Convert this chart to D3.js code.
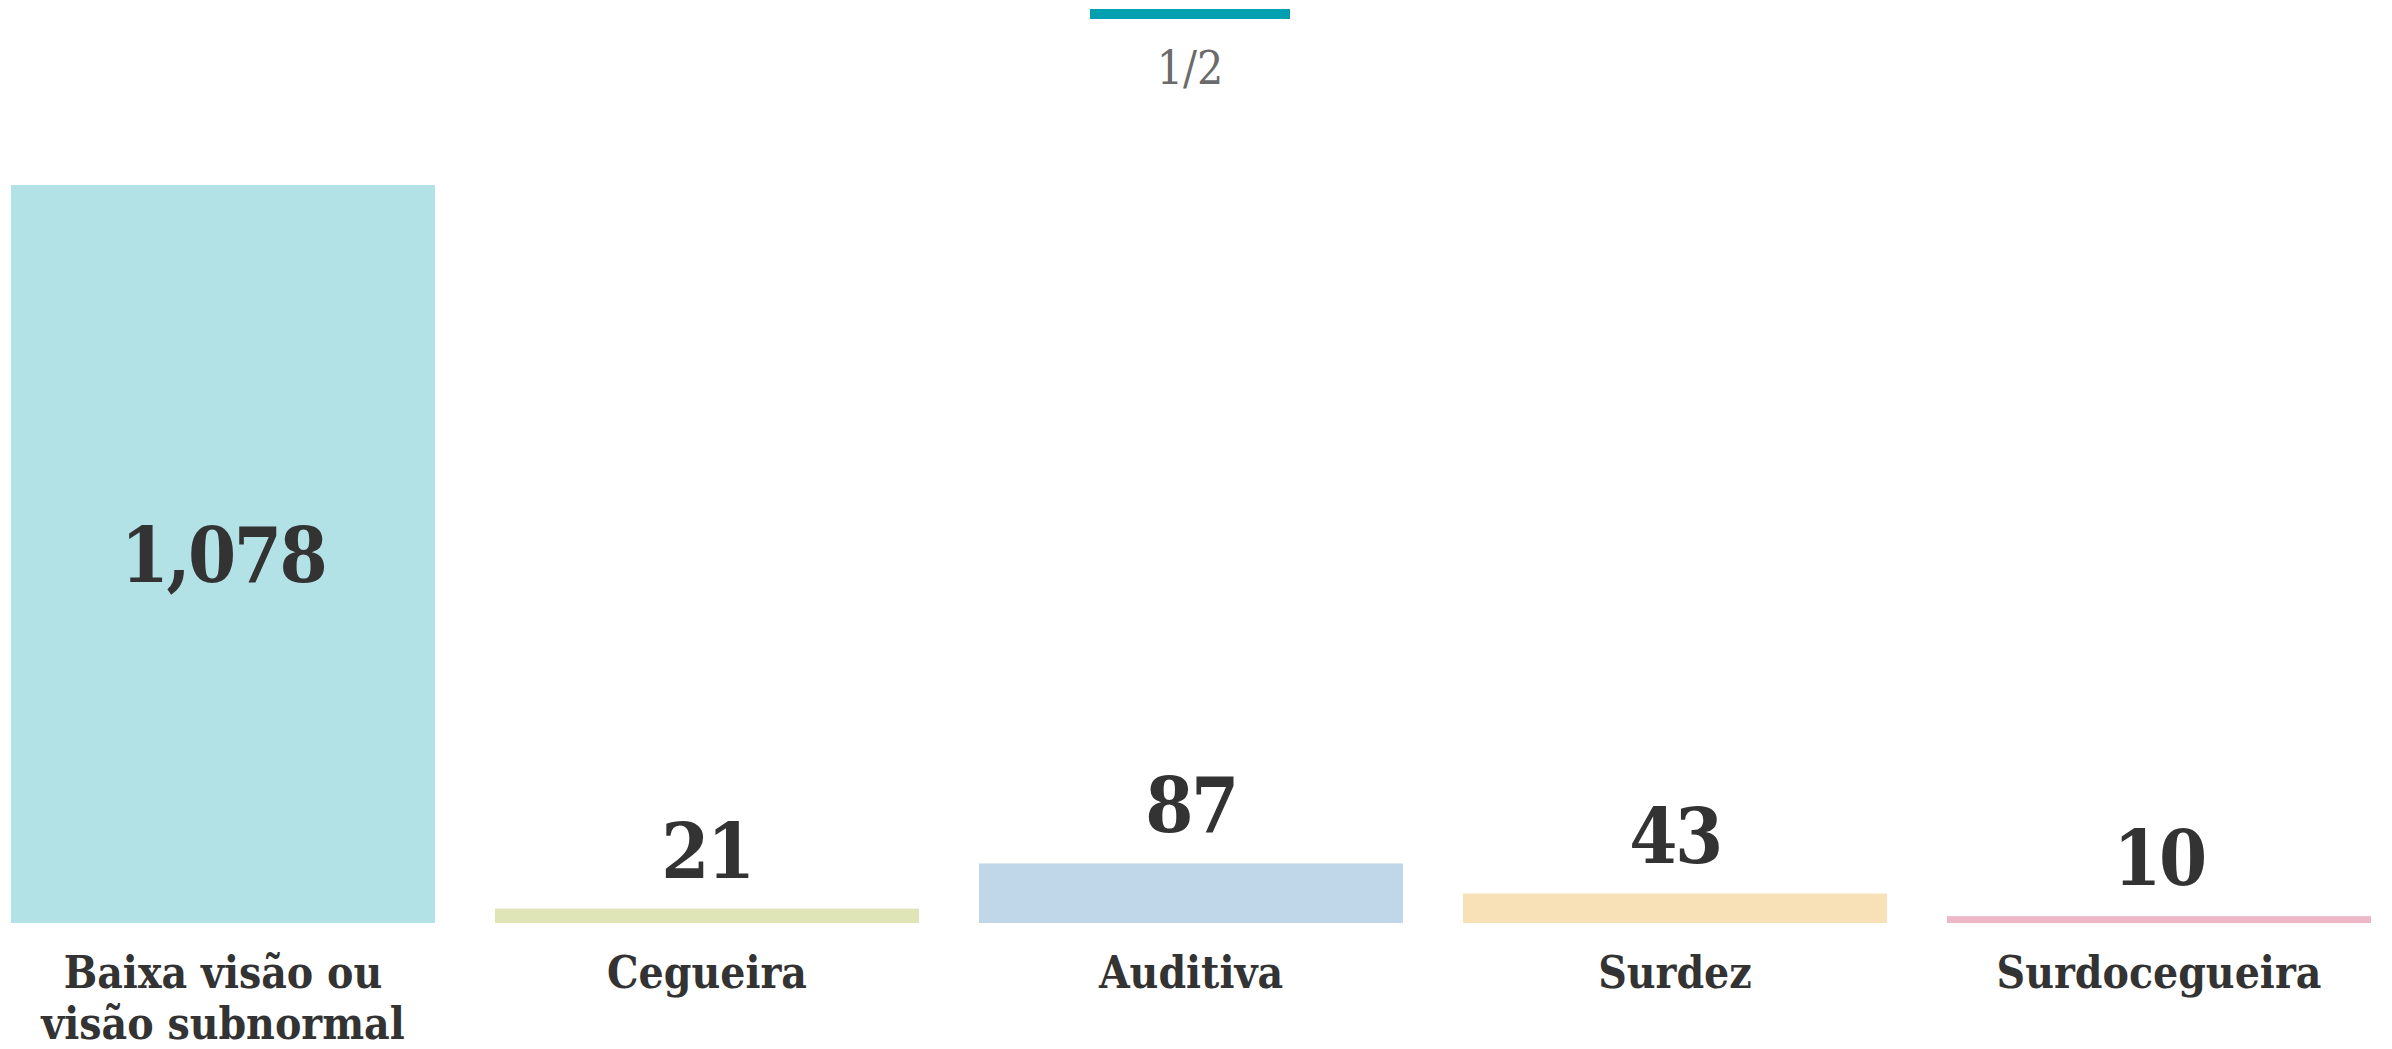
<!DOCTYPE html>
<html>
<head>
<meta charset="utf-8">
<script src="https://cdn.jsdelivr.net/npm/d3@7"></script>
<style>
  html, body { margin: 0; padding: 0; background: #fff; }
  svg { display: block; }
</style>
</head>
<body>
<svg id="chart" width="2392" height="1049"></svg>
<script>
const categories = ["Baixa visão ou visão subnormal", "Cegueira", "Auditiva", "Surdez", "Surdocegueira"];
const values = [1078, 21, 87, 43, 10];
const pageLabel = "1/2";

const W = 2392, H = 1049;
const FONT = "'DejaVu Serif Condensed', 'DejaVu Serif', serif";
const palette = ["#b2e1e6", "#dfe5b7", "#bfd7e8", "#f8e0b7", "#ecb7c7"];

const svg = d3.select("#chart");

const x = d3.scaleBand().domain(categories).range([11, 2371]).paddingInner(0.124).paddingOuter(0);
const y = d3.scaleLinear().domain([0, d3.max(values)]).range([923, 185]);
const color = d3.scaleOrdinal().domain(categories).range(palette);

const data = categories.map((c, i) => ({ cat: c, val: values[i] }));

// pager indicator
svg.append("rect")
  .attr("x", W / 2 - 106).attr("y", 9).attr("width", 200).attr("height", 10)
  .attr("fill", "#00a0b0");
svg.append("text")
  .attr("x", W / 2 - 6).attr("y", 84)
  .attr("text-anchor", "middle")
  .attr("font-family", FONT)
  .attr("font-size", 46)
  .attr("fill", "#6b6b6b")
  .style("font-stretch", "condensed")
  .text(pageLabel);

// bars
svg.append("g").selectAll("rect").data(data).join("rect")
  .attr("x", d => x(d.cat))
  .attr("width", x.bandwidth())
  .attr("y", d => y(d.val))
  .attr("height", d => y(0) - y(d.val))
  .attr("fill", d => color(d.cat));

// value labels
const fmt = d3.format(",");
svg.append("g").selectAll("text").data(data).join("text")
  .attr("x", d => x(d.cat) + x.bandwidth() / 2)
  .attr("y", d => {
    const h = y(0) - y(d.val);
    return h > 150 ? (y(d.val) + y(0)) / 2 + 28 : y(d.val) - 31;
  })
  .attr("text-anchor", "middle")
  .attr("font-family", FONT)
  .attr("font-weight", "bold")
  .attr("font-size", 77)
  .attr("letter-spacing", -2.5)
  .style("font-stretch", "condensed")
  .attr("fill", "#333333")
  .text(d => fmt(d.val));

// category labels (wrapped)
const catG = svg.append("g");
const maxW = x.bandwidth();
data.forEach(d => {
  const cx = x(d.cat) + x.bandwidth() / 2;
  const t = catG.append("text")
    .attr("x", cx)
    .attr("y", 988)
    .attr("text-anchor", "middle")
    .attr("font-family", FONT)
    .attr("font-weight", "bold")
    .attr("font-size", 44)
    .style("font-stretch", "condensed")
    .attr("fill", "#333333");
  const words = d.cat.split(" ");
  let line = [];
  let ts = t.append("tspan").attr("x", cx).attr("dy", 0);
  words.forEach(w => {
    line.push(w);
    ts.text(line.join(" "));
    if (ts.node().getComputedTextLength() > maxW && line.length > 1) {
      line.pop();
      ts.text(line.join(" "));
      line = [w];
      ts = t.append("tspan").attr("x", cx).attr("dy", 50.5).text(w);
    }
  });
});
</script>
</body>
</html>
